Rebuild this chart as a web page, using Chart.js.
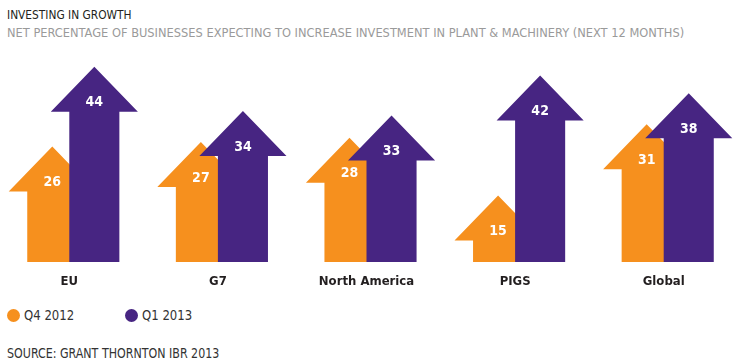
<!DOCTYPE html>
<html lang="en">
<head>
<meta charset="UTF-8">
<title>Investing in growth</title>
<script src="https://cdn.jsdelivr.net/npm/chart.js"></script>
<style>
  body { margin: 0; width: 736px; height: 362px; background: #fff; position: relative; overflow: hidden;
         font-family: "DejaVu Sans Condensed", "Liberation Sans", sans-serif; }
  .txt { position: absolute; left: 7px; font-size: 13px; line-height: 13px; white-space: nowrap; transform-origin: 0 0; }
  #title { top: 8px; color: #231f20; transform: scaleX(0.91); }
  #subtitle { top: 26px; color: #9a9a9a; transform: scaleX(0.978); }
  #source { top: 346px; color: #333; font-size: 14px; line-height: 14px; transform: scaleX(0.88); }
  #legend { position: absolute; top: 308px; left: 7px; font-size: 14px; color: #333; }
  .item { position: absolute; top: 0; white-space: nowrap; line-height: 15px; }
  .dot { display: inline-block; width: 13px; height: 13px; border-radius: 50%; vertical-align: -2px; margin-right: 4px; }
  .lbl { display: inline-block; transform: scaleX(0.93); transform-origin: 0 0; }
  #wrap { position: absolute; left: -5px; top: 40px; width: 743px; height: 254px; }
</style>
</head>
<body>
<div id="title" class="txt">INVESTING IN GROWTH</div>
<div id="subtitle" class="txt">NET PERCENTAGE OF BUSINESSES EXPECTING TO INCREASE INVESTMENT IN PLANT &amp; MACHINERY (NEXT 12 MONTHS)</div>
<div id="wrap"><canvas id="chart" width="743" height="254"></canvas></div>
<div id="legend"></div>
<div id="source" class="txt">SOURCE: GRANT THORNTON IBR 2013</div>

<script>
const categories = ['EU', 'G7', 'North America', 'PIGS', 'Global'];
const q4_2012 = [26, 27, 28, 15, 31];
const q1_2013 = [44, 34, 33, 42, 38];
const seriesNames = ['Q4 2012', 'Q1 2013'];
const seriesColors = ['#f6901e', '#472582'];

// draw each bar as an up arrow; shaft slightly wider than the bar slot so the pair overlaps
const arrowPlugin = {
  id: 'arrows',
  afterDatasetsDraw(chart) {
    const ctx = chart.ctx;
    chart.data.datasets.forEach((ds, di) => {
      const meta = chart.getDatasetMeta(di);
      meta.data.forEach((bar, i) => {
        const left = bar.x - bar.width / 2;
        const shaftW = bar.width * 50 / 42;
        const cx = left + shaftW / 2;
        const half = shaftW * 0.87;
        const neck = bar.y + 45;
        ctx.save();
        ctx.fillStyle = ds.arrowColor;
        ctx.beginPath();
        ctx.moveTo(left, bar.base);
        ctx.lineTo(left, neck);
        ctx.lineTo(cx - half, neck);
        ctx.lineTo(cx, bar.y);
        ctx.lineTo(cx + half, neck);
        ctx.lineTo(left + shaftW, neck);
        ctx.lineTo(left + shaftW, bar.base);
        ctx.closePath();
        ctx.fill();
        ctx.fillStyle = '#fff';
        ctx.font = 'bold 14px "DejaVu Sans Condensed", "Liberation Sans", sans-serif';
        ctx.textAlign = 'center';
        ctx.textBaseline = 'middle';
        ctx.fillText(ds.data[i], cx, bar.y + 36);
        ctx.restore();
      });
    });
  }
};

new Chart(document.getElementById('chart'), {
  type: 'bar',
  data: {
    labels: categories,
    datasets: [
      { label: seriesNames[0], data: q4_2012, arrowColor: seriesColors[0], backgroundColor: 'rgba(0,0,0,0)' },
      { label: seriesNames[1], data: q1_2013, arrowColor: seriesColors[1], backgroundColor: 'rgba(0,0,0,0)' }
    ]
  },
  options: {
    responsive: false,
    animation: false,
    devicePixelRatio: 1,
    layout: { padding: 0 },
    categoryPercentage: 0.566,
    barPercentage: 1,
    plugins: { legend: { display: false }, tooltip: { enabled: false } },
    scales: {
      y: { display: false, min: 0, max: 50 },
      x: {
        grid: { display: false },
        border: { display: false },
        ticks: {
          color: '#231f20',
          padding: 4,
          font: { family: '"DejaVu Sans Condensed", "Liberation Sans", sans-serif', size: 13, weight: 'bold' }
        },
        afterFit(scale) { scale.height = 32; }
      }
    }
  },
  plugins: [arrowPlugin]
});

const legend = document.getElementById('legend');
const legendX = [0, 118];
seriesNames.forEach((name, i) => {
  const el = document.createElement('div');
  el.className = 'item';
  el.style.left = legendX[i] + 'px';
  el.innerHTML = '<span class="dot" style="background:' + seriesColors[i] + '"></span><span class="lbl">' + name + '</span>';
  legend.appendChild(el);
});
</script>
</body>
</html>
